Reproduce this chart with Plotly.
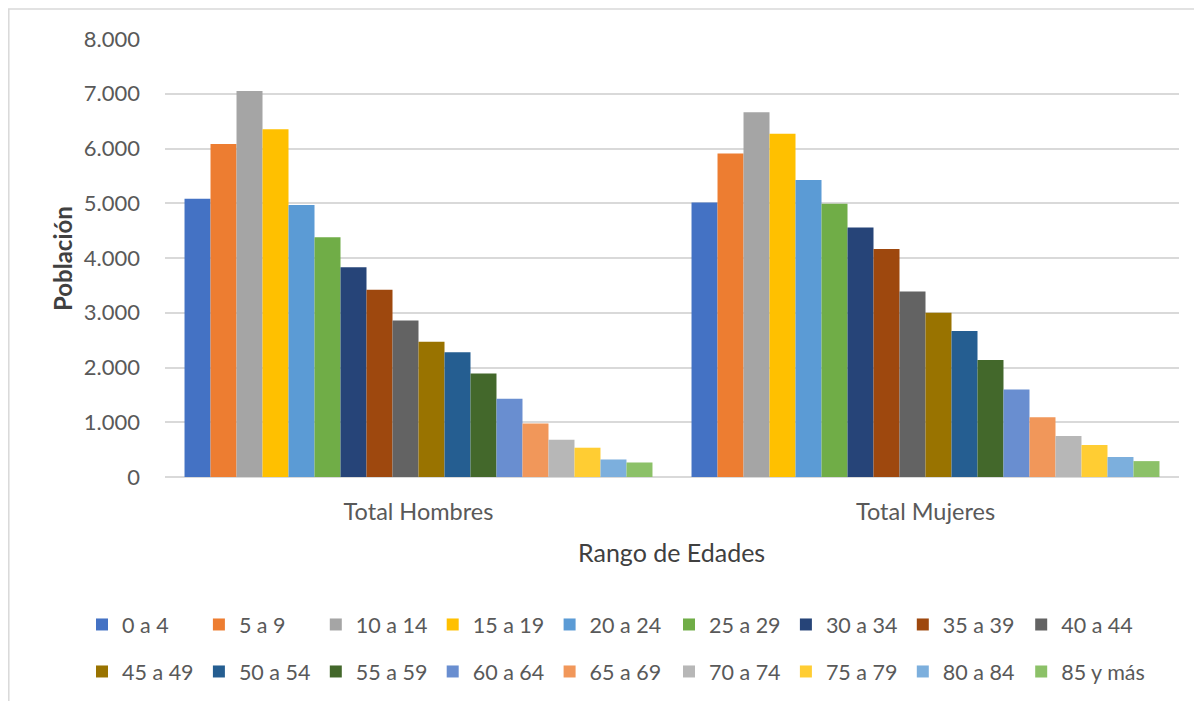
import plotly.graph_objects as go

categorias = ["Total Hombres", "Total Mujeres"]
rangos = ["0 a 4", "5 a 9", "10 a 14", "15 a 19", "20 a 24", "25 a 29", "30 a 34",
          "35 a 39", "40 a 44", "45 a 49", "50 a 54", "55 a 59", "60 a 64",
          "65 a 69", "70 a 74", "75 a 79", "80 a 84", "85 y más"]
hombres = [5080, 6080, 7050, 6350, 4970, 4380, 3830, 3420, 2860, 2470, 2280,
           1890, 1430, 975, 680, 535, 320, 265]
mujeres = [5015, 5910, 6660, 6270, 5425, 4990, 4555, 4165, 3390, 3000, 2665,
           2135, 1600, 1090, 750, 585, 365, 290]
colores = ["#4472C4", "#ED7D31", "#A5A5A5", "#FFC000", "#5B9BD5", "#70AD47",
           "#264478", "#9E480E", "#636363", "#997300", "#255E91", "#43682B",
           "#698ED0", "#F1975A", "#B7B7B7", "#FFCD33", "#7CAFDD", "#8CC168"]
y_ticks = [0, 1000, 2000, 3000, 4000, 5000, 6000, 7000, 8000]

FONT = "Lato"
TXT = "#595959"
OFF = 8                      # page offset of the figure (body margin)
W, H = 1202 - OFF, 701 - OFF
L, R, T, B = 157, 23, 31, 224
pw, ph = W - L - R, H - T - B

def px_x(p):                 # page x pixel -> paper fraction
    return (p - OFF - L) / pw

def px_y(p):                 # page y pixel -> paper fraction
    return (H - B - (p - OFF)) / ph

def cx(p):                   # page x pixel -> container fraction
    return (p - OFF) / W

def cy(p):                   # page y pixel -> container fraction
    return 1 - (p - OFF) / H

# legend groups: (first index, last index exclusive, row top page y)
grupos = [(0, 5, 604), (5, 8, 604), (8, 9, 604),
          (9, 14, 651), (14, 17, 651), (17, 18, 651)]
leg_names = ["legend", "legend2", "legend3", "legend4", "legend5", "legend6"]
STEP = 117.4
X0 = 82

fig = go.Figure()
for i, r in enumerate(rangos):
    g = next(k for k, (a, b, _) in enumerate(grupos) if a <= i < b)
    fig.add_trace(go.Bar(
        x=categorias, y=[hombres[i], mujeres[i]], name=r,
        marker=dict(color=colores[i], line=dict(width=0)),
        legend=leg_names[g],
    ))

leg_common = dict(
    orientation="h", xanchor="left", yanchor="top",
    xref="container", yref="container",
    font=dict(family=FONT, size=21.5, color=TXT),
    entrywidthmode="pixels", itemwidth=30,
    tracegroupgap=0, bgcolor="rgba(0,0,0,0)", traceorder="normal",
)
legends = {}
for k, (a, b, top) in enumerate(grupos):
    col = a if a < 9 else a - 9
    ew = STEP - 45.5 if b - a > 1 else 110
    legends[leg_names[k]] = dict(x=cx(X0 + col * STEP), y=cy(top), entrywidth=ew,
                                 **leg_common)

fig.update_layout(
    width=W, height=H,
    margin=dict(l=L, r=R, t=T, b=B, pad=0),
    paper_bgcolor="white", plot_bgcolor="white",
    separators=",.",
    barmode="group", bargap=0.077, bargroupgap=0,
    font=dict(family=FONT, color=TXT, size=21),
    showlegend=True,
    **legends,
    xaxis=dict(
        showgrid=False, showline=False, zeroline=False, ticks="",
        tickfont=dict(family=FONT, size=23.5, color=TXT),
        ticklabelstandoff=18,
    ),
    yaxis=dict(
        range=[0, 8000], tickvals=y_ticks, tickformat=",d",
        showgrid=True, gridcolor="#D9D9D9", gridwidth=1.5,
        zeroline=True, zerolinecolor="#D9D9D9", zerolinewidth=1.5,
        showline=False, ticks="",
        tickfont=dict(family=FONT, size=22, color=TXT),
        ticklabelstandoff=24,
    ),
    annotations=[
        dict(text="<b>Población</b>", x=px_x(62), y=px_y(259), xref="paper", yref="paper",
             textangle=-90, showarrow=False, xanchor="center", yanchor="middle",
             font=dict(family=FONT, size=24, color="#404040")),
        dict(text="Rango de Edades", x=px_x(671), y=px_y(552), xref="paper", yref="paper",
             showarrow=False, xanchor="center", yanchor="middle",
             font=dict(family=FONT, size=25, color="#404040")),
    ],
    shapes=[
        dict(type="line", xref="paper", yref="paper", x0=px_x(8.8), x1=px_x(8.8),
             y0=px_y(9), y1=px_y(705), line=dict(color="#D9D9D9", width=1.5)),
        dict(type="line", xref="paper", yref="paper", x0=px_x(8), x1=px_x(1210),
             y0=px_y(9), y1=px_y(9), line=dict(color="#D9D9D9", width=1.5)),
    ],
)

fig.write_html("out.html")
